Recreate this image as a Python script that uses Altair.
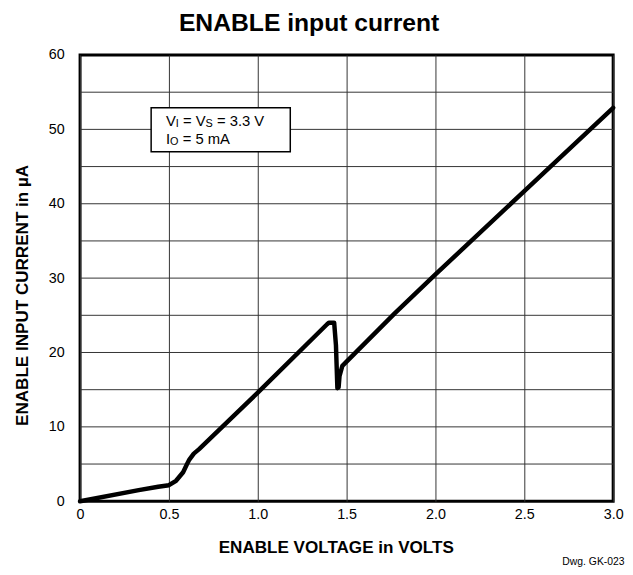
import altair as alt
import pandas as pd

# Curve (ENABLE voltage in V, input current in uA)
voltage = [0.0, 0.33, 0.44, 0.50, 0.54, 0.58, 0.60, 0.615, 0.64, 0.67, 1.00, 1.39, 1.40,
           1.43, 1.44, 1.448, 1.455, 1.46, 1.476, 1.772, 2.00, 2.50, 3.00]
current = [0.0, 1.5, 1.95, 2.15, 2.75, 3.9, 4.9, 5.6, 6.4, 7.0, 14.6, 23.8, 24.0,
           24.0, 21.0, 15.2, 15.3, 16.8, 18.2, 25.3, 30.5, 41.7, 52.9]

x_ticks = [0.0, 0.5, 1.0, 1.5, 2.0, 2.5, 3.0]
y_ticks = [0, 10, 20, 30, 40, 50, 60]
y_grid = [5, 10, 15, 20, 25, 30, 35, 40, 45, 50, 55]

# annotation box extent (data units)
box_x = [0.40, 1.183]
box_y = [47.0, 52.9]
note_x = 0.483
note_y = [50.4, 48.05]
line1_parts = ["V", "I", "= V", "S", "= 3.3 V"]
line2_parts = ["I", "O", "= 5 mA"]
drawing_label = "Dwg. GK-023"
chart_title = "ENABLE input current"

FONT = "Liberation Sans"

df = pd.DataFrame({"v": voltage, "i": current, "order": range(len(voltage))})

xscale = alt.Scale(domain=[0, 3], nice=False, zero=False)
yscale = alt.Scale(domain=[0, 60], nice=False)

xaxis = alt.Axis(values=x_ticks, title="ENABLE VOLTAGE in VOLTS", grid=True,
                 labelExpr="datum.value == 0 ? '0' : format(datum.value, '.1f')",
                 labelFlush=False, labelPadding=6, titleX=259, titleY=52,
                 titleBaseline="alphabetic", titleAnchor="start", titleAlign="center")
yaxis = alt.Axis(values=y_ticks, title="ENABLE INPUT CURRENT in µA", grid=False,
                 labelPadding=16, titleX=-53, titleY=243, titleAngle=-90,
                 titleBaseline="alphabetic", titleAlign="center", titleAnchor="start")

grid_df = pd.DataFrame({"g": y_grid})
hgrid = alt.Chart(grid_df).mark_rule(color="#333333", strokeWidth=1).encode(
    y=alt.Y("g:Q", scale=yscale, axis=yaxis),
)

line = alt.Chart(df).mark_line(color="black", strokeWidth=4.5, strokeJoin="round",
                               strokeCap="round").encode(
    x=alt.X("v:Q", scale=xscale, axis=xaxis),
    y=alt.Y("i:Q", scale=yscale, axis=yaxis),
    order="order:Q",
)

box_df = pd.DataFrame({"x0": [box_x[0]], "x1": [box_x[1]], "y0": [box_y[0]], "y1": [box_y[1]]})
box = alt.Chart(box_df).mark_rect(fill="white", stroke="black", strokeWidth=1.5).encode(
    x=alt.X("x0:Q", scale=xscale), x2="x1:Q",
    y=alt.Y("y0:Q", scale=yscale), y2="y1:Q",
)

def piece(text, xv, yv, dx, size, dy=0, align="left", weight="normal"):
    d = pd.DataFrame({"x": [xv], "y": [yv], "t": [text]})
    return alt.Chart(d).mark_text(align=align, baseline="alphabetic", font=FONT,
                                  fontSize=size, dx=dx, dy=dy, color="black",
                                  fontWeight=weight).encode(
        x=alt.X("x:Q", scale=xscale), y=alt.Y("y:Q", scale=yscale), text="t:N")

l1_dx = [0, 10.0, 17.3, 40.2, 51.7]
l1_sz = [15, 11, 15, 11, 15]
l1_dy = [0, 1, 0, 1, 0]
l2_dx = [0, 4.2, 17.0]
l2_sz = [15, 11, 15]
l2_dy = [0, 1, 0]

texts = []
for t, dx, s, dy in zip(line1_parts, l1_dx, l1_sz, l1_dy):
    texts.append(piece(t, note_x, note_y[0], dx, s, dy))
for t, dx, s, dy in zip(line2_parts, l2_dx, l2_sz, l2_dy):
    texts.append(piece(t, note_x, note_y[1], dx, s, dy))

dwg = piece(drawing_label, 3.064, -8.63, 0, 10.5, align="right")
title = piece(chart_title, 1.289, 63.2, 0, 25, align="center", weight="bold")

chart = alt.layer(hgrid, line, box, *texts, dwg, title).properties(
    width=540, height=452,
    background="white",
    autosize=alt.AutoSizeParams(type="none"),
    padding={"left": 73, "top": 44, "right": 12, "bottom": 63},
).configure_view(
    stroke="black", strokeWidth=3
).configure_axis(
    gridColor="#333333", gridWidth=1, gridOpacity=1,
    ticks=False, tickSize=0, domain=False,
    labelFont=FONT, labelFontSize=14.5, labelColor="black",
    titleFont=FONT, titleFontSize=17.3, titleFontWeight="bold", titleColor="black",
)

chart.save("out.html", embed_options={"renderer": "svg", "actions": False})
